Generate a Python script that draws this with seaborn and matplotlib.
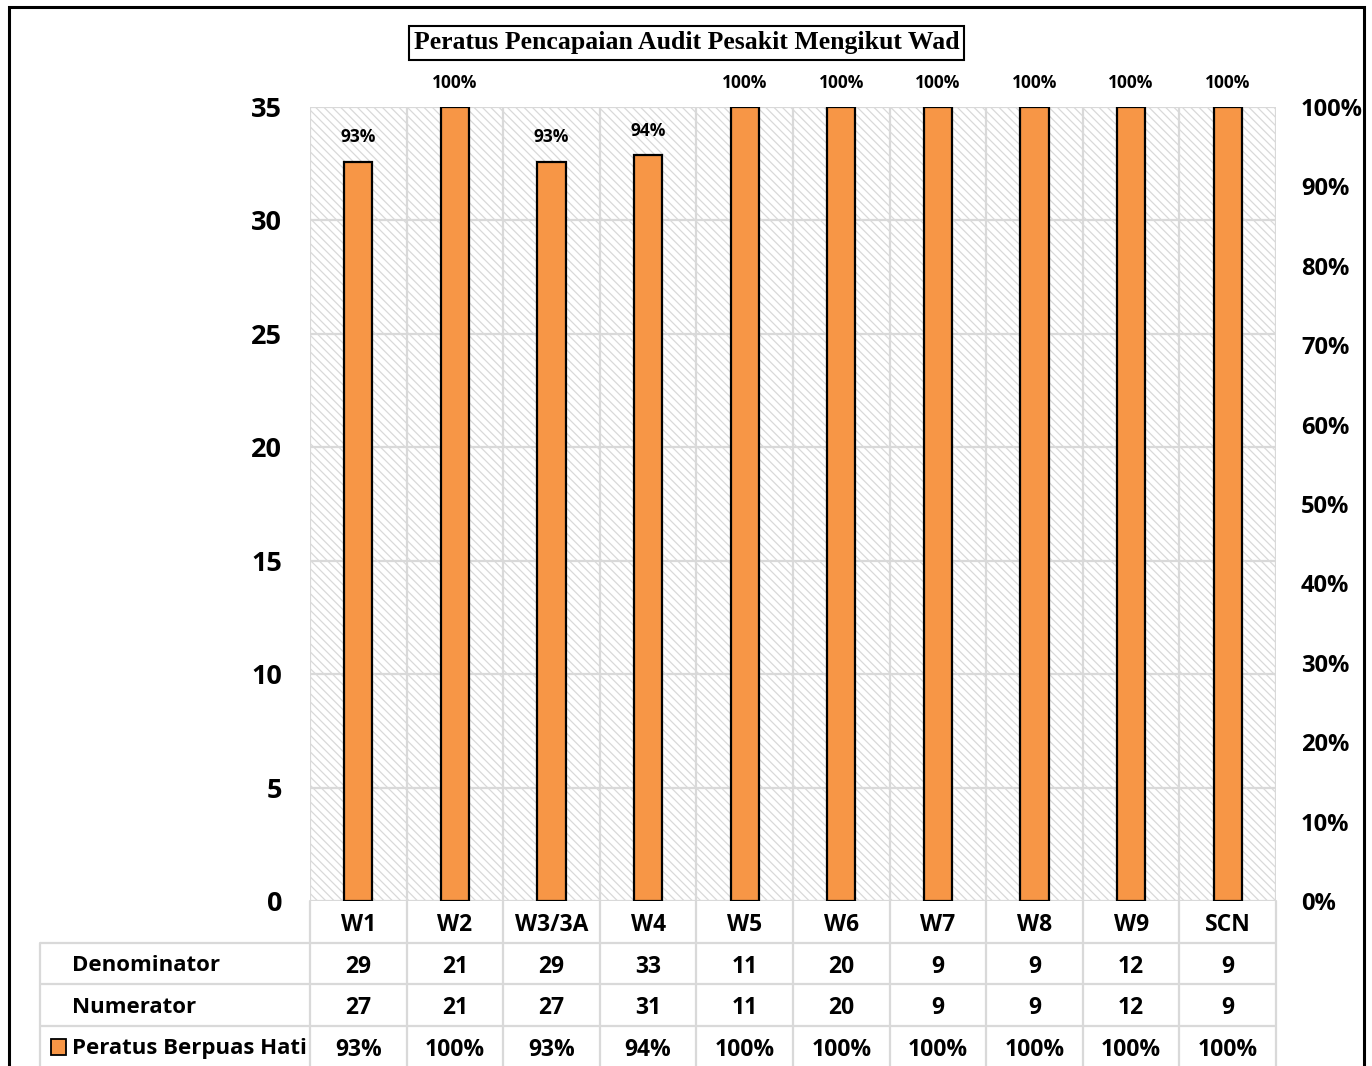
import numpy as np
import matplotlib
matplotlib.use("Agg")
import matplotlib.pyplot as plt
from matplotlib.patches import Rectangle
import seaborn as sns

# data
wards = ["W1", "W2", "W3/3A", "W4", "W5", "W6", "W7", "W8", "W9", "SCN"]
denominator = [29, 21, 29, 33, 11, 20, 9, 9, 12, 9]
numerator = [27, 21, 27, 31, 11, 20, 9, 9, 12, 9]
row_labels = ["Denominator", "Numerator", "Peratus Berpuas Hati"]
left_ticks = [0, 5, 10, 15, 20, 25, 30, 35]
right_ticks = [0, 0.1, 0.2, 0.3, 0.4, 0.5, 0.6, 0.7, 0.8, 0.9, 1.0]
title = "Peratus Pencapaian Audit Pesakit Mengikut Wad"

pct = [n / d for n, d in zip(numerator, denominator)]
pct_labels = [f"{p:.0%}" for p in pct]

sns.set_style("white")
plt.rcParams["font.family"] = ["Open Sans", "DejaVu Sans"]
plt.rcParams["font.weight"] = "bold"
plt.rcParams["text.color"] = "black"
plt.rcParams["ytick.color"] = "black"
plt.rcParams["xtick.color"] = "black"
plt.rcParams["hatch.linewidth"] = 0.9

ORANGE = "#F79646"
GRID = "#d9d9d9"
W, H = 1372, 1066
fig = plt.figure(figsize=(W / 100, H / 100), dpi=100)

# plot area in pixels
x0, x1, y_top, y_bot = 310, 1276, 107, 901
ax = fig.add_axes([x0 / W, 1 - y_bot / H, (x1 - x0) / W, (y_bot - y_top) / H])
ax2 = ax.twinx()

sns.barplot(x=wards, y=pct, ax=ax2, color=ORANGE, width=0.29,
            edgecolor="black", linewidth=1.6, saturation=1, zorder=3)

n = len(wards)
ax.set_xlim(-0.5, n - 0.5)
ax.set_ylim(0, 35)
ax2.set_ylim(0, 1)

# hatched background
ax.add_patch(Rectangle((0, 0), 1, 1, transform=ax.transAxes, facecolor="white",
                       edgecolor=GRID, hatch="\\\\\\\\", linewidth=0, zorder=0))
for v in left_ticks:
    ax.axhline(v, color=GRID, lw=1.6, zorder=1)
for b in np.arange(-0.5, n, 1):
    ax.axvline(b, color=GRID, lw=1.6, zorder=1)

for a in (ax, ax2):
    for s in a.spines.values():
        s.set_visible(False)
    a.tick_params(length=0)
    a.set_xlabel("")
    a.set_ylabel("")
ax.set_xticks([])
ax2.set_xticks([])
ax.set_yticks(left_ticks)
ax.set_yticklabels([str(v) for v in left_ticks], fontsize=19.5, fontweight="bold")
ax.tick_params(axis="y", pad=20)
ax2.set_yticks(right_ticks)
ax2.set_yticklabels([f"{v:.0%}" for v in right_ticks], fontsize=17, fontweight="bold")
ax2.tick_params(axis="y", pad=18)

# data labels
for i, (p, lab) in enumerate(zip(pct, pct_labels)):
    ax2.annotate(lab, (i, p), xytext=(0, 11), textcoords="offset points",
                 ha="center", va="bottom", fontsize=12.5, fontweight="bold",
                 annotation_clip=False)

# title in a box
fig.text((410 + 963) / 2 / W, 1 - 43 / H, title, ha="center", va="center",
         fontsize=18.5, fontweight="bold", family="Liberation Serif",
         bbox=dict(boxstyle="square,pad=0.2", facecolor="white",
                   edgecolor="black", linewidth=1.5))

# data table below the plot
cat_w = (x1 - x0) / n
lab_w = (x1 - 40) / cat_w - n
tab = fig.add_axes([40 / W, 0, (x1 - 40) / W, (H - y_bot) / H])
nrows = (H - y_bot) / 41.5
tab.set_xlim(-0.5 - (lab_w), n - 0.5)
tab.set_ylim(nrows, 0)
tab.axis("off")
left_edge = -0.5 - lab_w
for b in np.arange(-0.5, n, 1):
    tab.plot([b, b], [0, nrows], color=GRID, lw=1.6, clip_on=False)
tab.plot([left_edge, left_edge], [1, nrows], color=GRID, lw=1.6, clip_on=False)
for r in (1, 2, 3):
    tab.plot([left_edge, n - 0.5], [r, r], color=GRID, lw=1.6)

rows = [wards, [str(v) for v in denominator], [str(v) for v in numerator], pct_labels]
for r, vals in enumerate(rows):
    for i, v in enumerate(vals):
        tab.text(i, r + 0.58, v, ha="center", va="center", fontsize=16.5,
                 fontweight="bold")
for r, lab in enumerate(row_labels, start=1):
    tab.text(left_edge + 0.33, r + 0.56, lab, ha="left", va="center",
             fontsize=16, fontweight="bold")
tab.add_patch(Rectangle((left_edge + 0.11, 3.32), 0.16, 0.4, facecolor=ORANGE,
                        edgecolor="black", lw=1.3, clip_on=False))

# figure border
fig.add_artist(Rectangle((9 / W, -0.05), (1364 - 9) / W, 1.05 - 7 / H,
                         transform=fig.transFigure, fill=False,
                         edgecolor="black", lw=2.2))

fig.savefig("out.png", dpi=100)
